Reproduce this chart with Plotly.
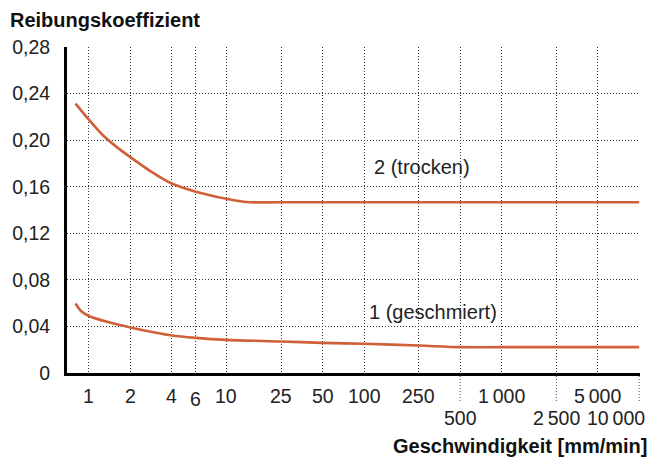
import math
import plotly.graph_objects as go

# Friction coefficient over sliding speed (log scale)
speed_ticks = [1, 2, 4, 6, 10, 25, 50, 100, 250, 500, 1000, 2500, 5000, 10000]
speed_labels = ["1", "2", "4", "6", "10", "25", "50", "100", "250",
                "500", "1\u2009000", "2\u2009500", "5\u2009000", "10\u2009000"]
lower_row = [500, 2500, 10000]

mu_ticks = [0, 0.04, 0.08, 0.12, 0.16, 0.20, 0.24, 0.28]
mu_labels = ["0", "0,04", "0,08", "0,12", "0,16", "0,20", "0,24", "0,28"]

# curve 2: dry
v_dry = [0.8, 1, 1.26, 1.58, 2, 2.8, 4, 6, 10, 12.6, 15, 25, 1000, 10000]
mu_dry = [0.2315, 0.2177, 0.2045, 0.1945, 0.1855, 0.1735, 0.1628, 0.1558,
          0.1497, 0.1476, 0.1467, 0.1467, 0.1467, 0.1467]

# curve 1: lubricated
v_lub = [0.8, 0.88, 1, 1.4, 2, 3, 4, 6, 10, 25, 50, 100, 250, 500, 1000, 10000]
mu_lub = [0.0597, 0.0530, 0.0490, 0.0435, 0.0391, 0.0348, 0.0322, 0.0302,
          0.0285, 0.0271, 0.0259, 0.0251, 0.0236, 0.0222, 0.0222, 0.0222]

CURVE = "#d0603a"
GRID = "#333333"
FONT = "Liberation Sans"

fig = go.Figure()
for v, mu in ((v_dry, mu_dry), (v_lub, mu_lub)):
    fig.add_trace(go.Scatter(x=v, y=mu, mode="lines",
                             line=dict(color=CURVE, width=2.6, shape="spline", smoothing=0.8),
                             hoverinfo="skip", showlegend=False))

annotations = []
for v, lab in zip(speed_ticks, speed_labels):
    shift = -23
    if v in lower_row:
        shift = -45
    elif v == 6:
        shift = -26
    ann = dict(x=math.log10(v), xref="x", y=0, yref="paper",
               text=lab, showarrow=False, yanchor="middle", xanchor="center",
               yshift=shift, font=dict(family=FONT, size=19.5, color="#222"))
    if v == speed_ticks[-1]:
        ann.update(xanchor="right", xshift=8)
    annotations.append(ann)

annotations += [
    dict(x=-0.1023, y=1.083, xref="paper", yref="paper", text="<b>Reibungskoeffizient</b>",
         showarrow=False, xanchor="left", yanchor="middle",
         font=dict(family=FONT, size=20, color="#111")),
    dict(x=1.0156, y=-0.224, xref="paper", yref="paper", text="<b>Geschwindigkeit [mm/min]</b>",
         showarrow=False, xanchor="right", yanchor="middle",
         font=dict(family=FONT, size=20, color="#111")),
    dict(x=2.058, y=0.177, xref="x", yref="y", text="2 (trocken)", showarrow=False,
         xanchor="left", yanchor="middle", font=dict(family=FONT, size=20, color="#222")),
    dict(x=2.022, y=0.0524, xref="x", yref="y", text="1 (geschmiert)", showarrow=False,
         xanchor="left", yanchor="middle", font=dict(family=FONT, size=20, color="#222")),
]

# grid lines of the lower label row run down to their labels
shapes = [dict(type="line", xref="x", yref="paper", x0=v, x1=v, y0=0, y1=-0.09,
               line=dict(color="#555", width=1, dash="1px,2px"), layer="below")
          for v in lower_row]

fig.update_layout(
    width=653, height=462,
    margin=dict(l=63, r=13, t=47, b=89),
    paper_bgcolor="white", plot_bgcolor="white",
    annotations=annotations, shapes=shapes,
    xaxis=dict(type="log", range=[-0.159, 4.006], tickvals=speed_ticks,
               showticklabels=False, ticks="", showgrid=True, gridcolor=GRID,
               gridwidth=1, griddash="1px,2px", showline=True, linecolor="black",
               linewidth=3, zeroline=False),
    yaxis=dict(range=[0, 0.2801], tickvals=mu_ticks, ticktext=mu_labels, ticks="",
               ticklabelstandoff=10, showgrid=True, gridcolor=GRID, gridwidth=1,
               griddash="1px,2px", showline=True, linecolor="black", linewidth=3,
               zeroline=False, tickfont=dict(family=FONT, size=19.5, color="#222")),
)

fig.write_html("out.html")
